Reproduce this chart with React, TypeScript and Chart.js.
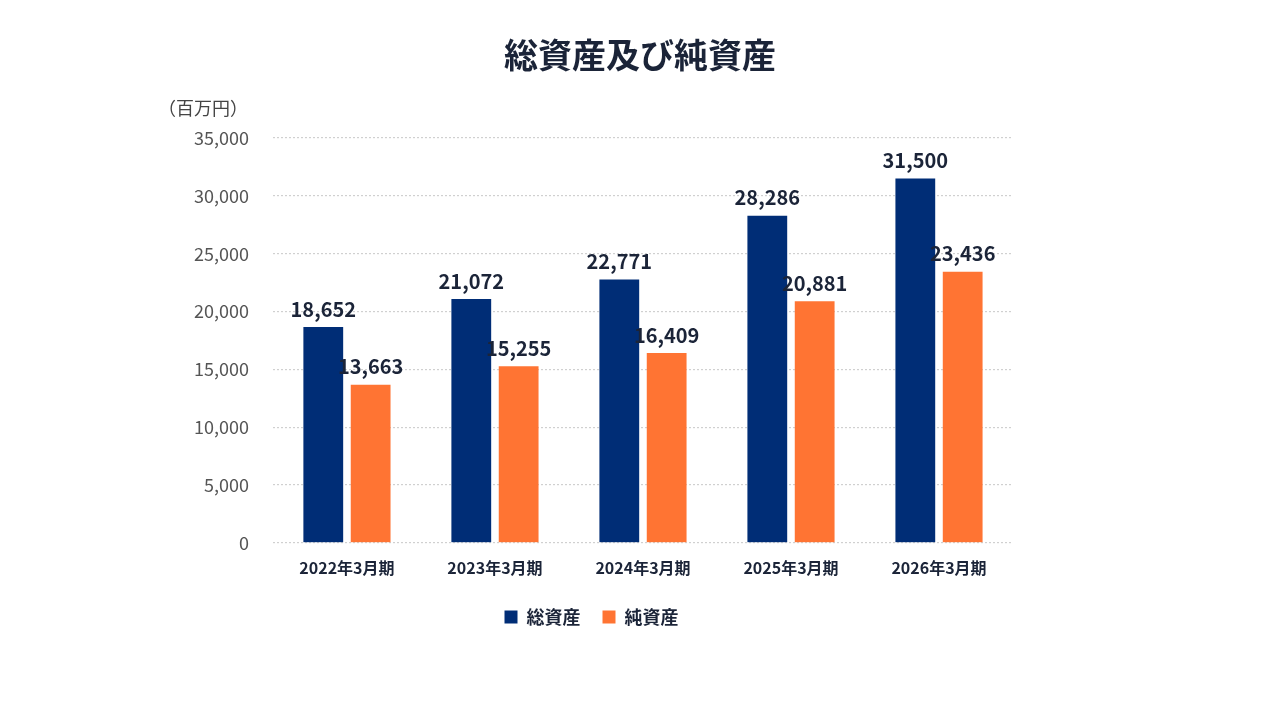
import React, { useEffect, useRef } from "react";
import { Chart, registerables } from "chart.js";
Chart.register(...registerables);

const categories = ["2022年3月期", "2023年3月期", "2024年3月期", "2025年3月期", "2026年3月期"];
const totalAssets = [18652, 21072, 22771, 28286, 31500];
const netAssets = [13663, 15255, 16409, 20881, 23436];
const seriesNames = ["総資産", "純資産"];
const titleText = "総資産及び純資産";
const unitText = "（百万円）";

const FONT = "'Noto Sans CJK JP', 'Noto Sans', sans-serif";
const DARK = "#1b2438";

const overlay = {
  id: "overlay",
  afterDatasetsDraw(chart: any) {
    const ctx = chart.ctx;
    ctx.save();
    ctx.fillStyle = DARK;
    ctx.textAlign = "center";
    ctx.textBaseline = "bottom";
    ctx.font = `bold 20px ${FONT}`;
    chart.data.datasets.forEach((ds: any, i: number) => {
      chart.getDatasetMeta(i).data.forEach((bar: any, j: number) => {
        ctx.fillText(ds.data[j].toLocaleString("en-US"), bar.x, bar.y - 8);
      });
    });
    ctx.font = `bold 34px ${FONT}`;
    ctx.textBaseline = "middle";
    ctx.fillText(titleText, 640, 55);
    ctx.font = `18px ${FONT}`;
    ctx.fillStyle = "#444";
    ctx.textAlign = "left";
    ctx.fillText(unitText, 158, 108);
    ctx.restore();
  },
};

export default function App() {
  const ref = useRef<HTMLCanvasElement>(null);
  useEffect(() => {
    const chart = new Chart(ref.current!, {
      type: "bar",
      data: {
        labels: categories,
        datasets: [
          { label: seriesNames[0], data: totalAssets, backgroundColor: "#002D76", categoryPercentage: 0.64, barPercentage: 0.84 },
          { label: seriesNames[1], data: netAssets, backgroundColor: "#FF7433", categoryPercentage: 0.64, barPercentage: 0.84 },
        ],
      },
      options: {
        responsive: false,
        animation: false,
        layout: { padding: { left: 170, right: 267, top: 138, bottom: 84 } },
        plugins: {
          legend: {
            position: "bottom",
            labels: { boxWidth: 13, boxHeight: 13, color: DARK, font: { family: FONT, size: 18, weight: "bold" }, padding: 22 },
          },
          tooltip: { enabled: false },
        },
        scales: {
          x: {
            grid: { display: false },
            border: { display: false },
            ticks: { color: DARK, font: { family: FONT, size: 16, weight: "bold" }, padding: 8 },
          },
          y: {
            min: 0,
            max: 35000,
            ticks: { stepSize: 5000, color: "#555", font: { family: FONT, size: 18 }, padding: 24, callback: (v: any) => Number(v).toLocaleString("en-US") },
            grid: { color: "#d0d0d0", lineWidth: 1.2, drawTicks: false },
            border: { display: false, dash: [2, 2] },
          },
        },
      },
      plugins: [overlay],
    });
    return () => chart.destroy();
  }, []);
  return (
    <div style={{ position: "fixed", left: 0, top: 0, width: 1280, height: 720, background: "#fff" }}>
      <canvas ref={ref} width={1280} height={720} />
    </div>
  );
}
